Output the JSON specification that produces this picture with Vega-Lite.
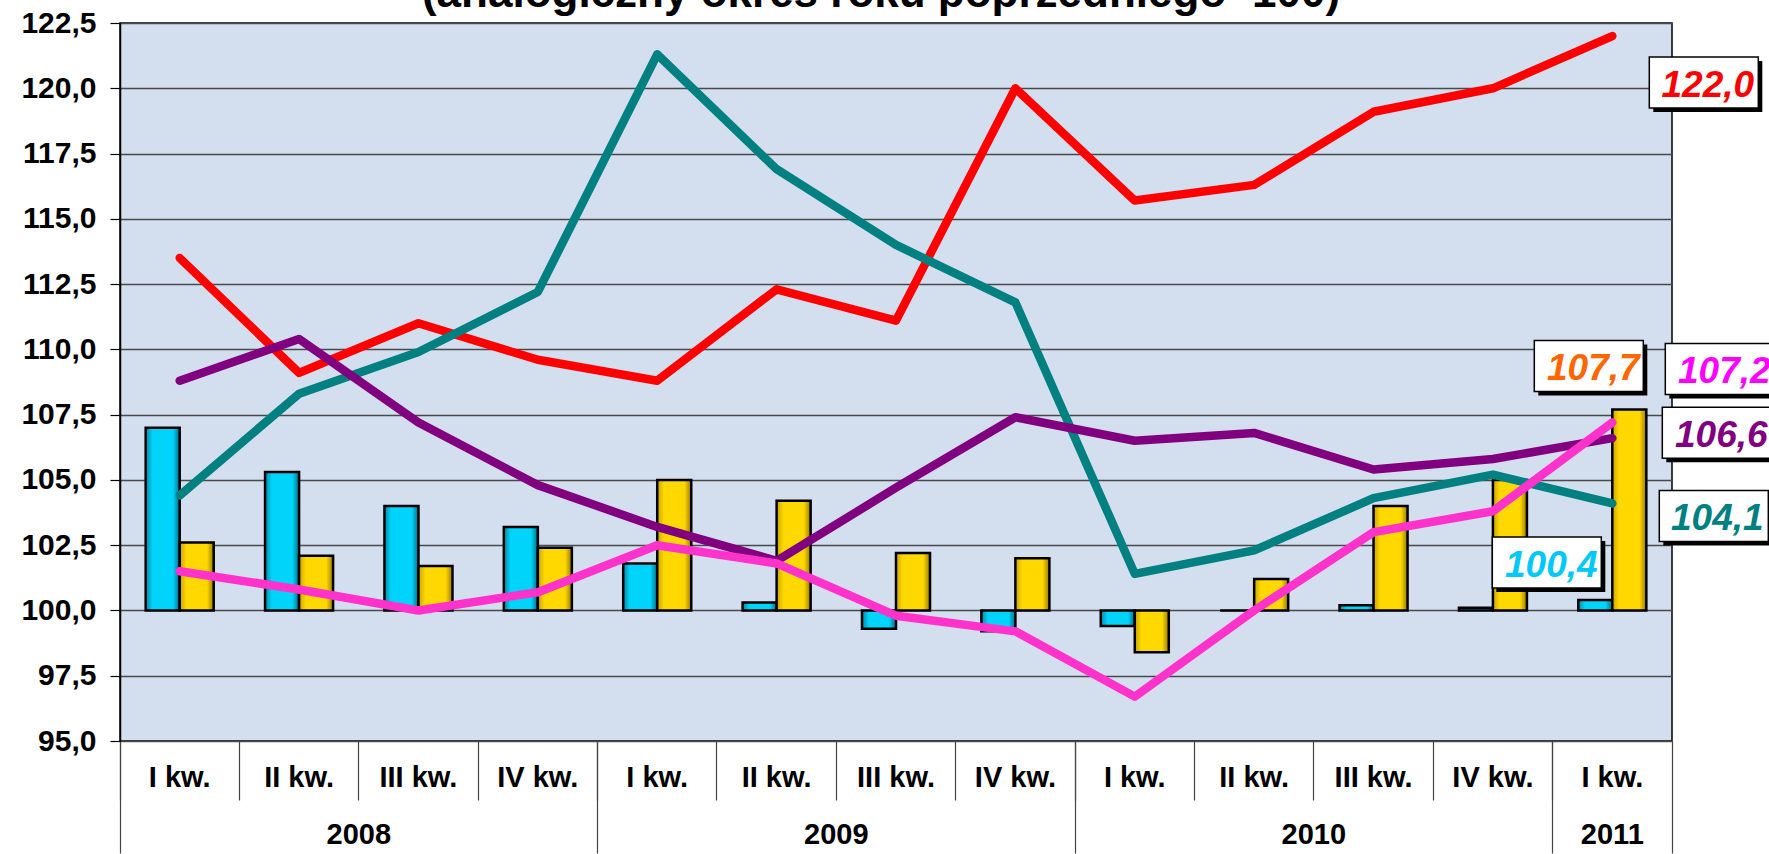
{
  "$schema": "https://vega.github.io/schema/vega-lite/v6.json",
  "width": 1552,
  "height": 718,
  "autosize": {"type": "none"},
  "padding": {"left": 120, "top": 23, "right": 97, "bottom": 113},
  "background": "#ffffff",
  "title": {"text": "(analogiczny okres roku poprzedniego=100)", "font": "Liberation Sans", "fontSize": 44, "fontWeight": "bold", "color": "#000000", "anchor": "middle", "frame": "group", "baseline": "alphabetic", "offset": 10, "dx": -15, "dy": 53},
  "config": {
    "locale": {"number": {"decimal": ",", "thousands": " ", "grouping": [3], "currency": ["", " zł"]}},
    "view": {"fill": "#D3DEEF", "stroke": "#000000", "strokeWidth": 1.5},
    "axis": {"labelFont": "Liberation Sans", "labelFontWeight": "bold", "labelColor": "#000000"}
  },
  "data": {"values": [
    {"k": "2008|I kw.", "cyan": 107.0, "yellow": 102.6, "red": 113.5, "teal": 104.4, "purple": 108.8, "pink": 101.5},
    {"k": "2008|II kw.", "cyan": 105.3, "yellow": 102.1, "red": 109.1, "teal": 108.3, "purple": 110.4, "pink": 100.8},
    {"k": "2008|III kw.", "cyan": 104.0, "yellow": 101.7, "red": 111.0, "teal": 109.9, "purple": 107.2, "pink": 100.0},
    {"k": "2008|IV kw.", "cyan": 103.2, "yellow": 102.4, "red": 109.6, "teal": 112.2, "purple": 104.8, "pink": 100.7},
    {"k": "2009|I kw.", "cyan": 101.8, "yellow": 105.0, "red": 108.8, "teal": 121.3, "purple": 103.2, "pink": 102.5},
    {"k": "2009|II kw.", "cyan": 100.3, "yellow": 104.2, "red": 112.3, "teal": 116.9, "purple": 101.9, "pink": 101.8},
    {"k": "2009|III kw.", "cyan": 99.3, "yellow": 102.2, "red": 111.1, "teal": 114.0, "purple": 104.7, "pink": 99.8},
    {"k": "2009|IV kw.", "cyan": 99.2, "yellow": 102.0, "red": 120.0, "teal": 111.8, "purple": 107.4, "pink": 99.2},
    {"k": "2010|I kw.", "cyan": 99.4, "yellow": 98.4, "red": 115.7, "teal": 101.4, "purple": 106.5, "pink": 96.7},
    {"k": "2010|II kw.", "cyan": 100.0, "yellow": 101.2, "red": 116.3, "teal": 102.3, "purple": 106.8, "pink": 100.0},
    {"k": "2010|III kw.", "cyan": 100.2, "yellow": 104.0, "red": 119.1, "teal": 104.3, "purple": 105.4, "pink": 103.0},
    {"k": "2010|IV kw.", "cyan": 100.1, "yellow": 105.0, "red": 120.0, "teal": 105.2, "purple": 105.8, "pink": 103.8},
    {"k": "2011|I kw.", "cyan": 100.4, "yellow": 107.7, "red": 122.0, "teal": 104.1, "purple": 106.6, "pink": 107.2}
  ]},
  "layer": [
    {
      "transform": [{"fold": ["cyan", "yellow"], "as": ["series", "value"]}, {"filter": "datum.series === 'cyan'"}],
      "mark": {"type": "bar", "stroke": "#000000", "strokeWidth": 2.5, "fill": {"gradient": "linear", "x1": 0, "y1": 0, "x2": 1, "y2": 0, "stops": [{"offset": 0, "color": "#0088a8"}, {"offset": 0.2, "color": "#00D4FA"}, {"offset": 0.8, "color": "#00D4FA"}, {"offset": 1, "color": "#006c88"}]}},
      "encoding": {
        "x": {"field": "k", "type": "nominal", "sort": null, "scale": {"paddingInner": 0, "paddingOuter": 0},
          "axis": {"orient": "bottom", "title": null, "bandPosition": 0, "domain": false, "grid": false, "ticks": true, "tickSize": 59, "tickColor": "#444444", "tickWidth": 1.2, "labelExpr": "split(datum.value, '|')[1]", "labelAngle": 0, "labelBaseline": "middle", "labelPadding": -22.5, "labelFontSize": 29, "labelOverlap": false, "labelBound": false, "labelFlush": false}},
        "xOffset": {"field": "series", "type": "nominal", "scale": {"domain": ["cyan", "yellow"], "paddingInner": 0, "paddingOuter": 0.755}},
        "y": {"field": "value", "type": "quantitative", "scale": {"domain": [95, 122.5], "nice": false, "zero": false},
          "axis": {"title": null, "values": [95, 97.5, 100, 102.5, 105, 107.5, 110, 112.5, 115, 117.5, 120, 122.5], "format": ".1f", "labelFontSize": 30, "labelPadding": 14, "labelBaseline": "middle", "tickSize": 10, "tickColor": "#000000", "tickWidth": 1.2, "domain": true, "domainColor": "#000000", "domainWidth": 1.5, "grid": true, "gridColor": "#4a4a4a", "gridWidth": 1.5}},
        "y2": {"datum": 100}
      }
    },
    {
      "transform": [{"fold": ["cyan", "yellow"], "as": ["series", "value"]}, {"filter": "datum.series === 'yellow'"}],
      "mark": {"type": "bar", "stroke": "#000000", "strokeWidth": 2.5, "fill": {"gradient": "linear", "x1": 0, "y1": 0, "x2": 1, "y2": 0, "stops": [{"offset": 0, "color": "#c9a400"}, {"offset": 0.2, "color": "#FFD800"}, {"offset": 0.8, "color": "#FFD800"}, {"offset": 1, "color": "#9a7a00"}]}},
      "encoding": {
        "x": {"field": "k", "type": "nominal", "sort": null,
          "axis": {"orient": "bottom", "title": null, "values": ["2008|I kw.", "2009|I kw.", "2010|I kw.", "2011|I kw."], "bandPosition": 0, "domain": false, "grid": false, "ticks": true, "tickSize": 112, "tickColor": "#444444", "tickWidth": 1.2, "labels": false}},
        "xOffset": {"field": "series", "type": "nominal"},
        "y": {"field": "value", "type": "quantitative"},
        "y2": {"datum": 100}
      }
    },
    {
      "transform": [{"fold": ["red", "teal", "purple", "pink"], "as": ["series", "value"]}],
      "mark": {"type": "line", "strokeWidth": 8.5, "strokeCap": "round", "strokeJoin": "round"},
      "encoding": {
        "x": {"field": "k", "type": "nominal", "sort": null,
          "axis": {"orient": "bottom", "title": null, "values": ["2008|II kw.", "2009|II kw.", "2010|II kw.", "2011|I kw."], "domain": false, "grid": false, "ticks": false, "labelExpr": "split(datum.value, '|')[0]", "labelOffset": {"condition": {"test": "indexof(datum.value, '2011') === 0", "value": 0}, "value": 59.7}, "labelPadding": 93.5, "labelBaseline": "middle", "labelAngle": 0, "labelFontSize": 29, "labelOverlap": false, "labelBound": false, "labelFlush": false}},
        "y": {"field": "value", "type": "quantitative"},
        "color": {"field": "series", "type": "nominal", "scale": {"domain": ["red", "teal", "purple", "pink"], "range": ["#FF0000", "#008080", "#800080", "#FF33CC"]}, "legend": null}
      }
    },
    {
      "transform": [{"filter": "datum.k === '2011|I kw.'"}, {"fold": ["cyan", "yellow", "red", "teal", "purple", "pink"], "as": ["series", "value"]}],
      "mark": {"type": "point", "filled": true, "fill": "#000000", "size": 4, "opacity": 1, "strokeWidth": 0},
      "encoding": {
        "x": {"field": "k", "type": "nominal", "sort": null,
          "axis": {"orient": "bottom", "title": null, "values": ["2011|I kw."], "bandPosition": 1, "domain": false, "grid": false, "ticks": true, "tickSize": 112, "tickColor": "#444444", "tickWidth": 1.2, "labels": false}},
        "y": {"field": "value", "type": "quantitative"},
        "shape": {"field": "series", "type": "nominal", "legend": null, "scale": {"domain": ["cyan", "yellow", "red", "teal", "purple", "pink"], "range": ["M-116,-59H-7V-8H-116Z", "M-74,-65H35V-14H-74Z", "M41,25H150V76H41Z", "M51,-9H160V42H51Z", "M54,-27H163V24H54Z", "M57,-75H166V-24H57Z"]}}
      }
    },
    {
      "transform": [{"filter": "datum.k === '2011|I kw.'"}, {"fold": ["cyan", "yellow", "red", "teal", "purple", "pink"], "as": ["series", "value"]}],
      "mark": {"type": "point", "filled": true, "fill": "#ffffff", "stroke": "#000000", "strokeWidth": 1.5, "size": 4, "opacity": 1},
      "encoding": {
        "x": {"field": "k", "type": "nominal", "sort": null, "axis": null},
        "y": {"field": "value", "type": "quantitative"},
        "shape": {"field": "series", "type": "nominal", "legend": null, "scale": {"domain": ["cyan", "yellow", "red", "teal", "purple", "pink"], "range": ["M-120,-63H-11V-12H-120Z", "M-78,-69H31V-18H-78Z", "M37,21H146V72H37Z", "M47,-13H156V38H47Z", "M50,-31H159V20H50Z", "M53,-79H162V-28H53Z"]}}
      }
    },
    {
      "transform": [{"filter": "datum.k === '2011|I kw.'"}],
      "mark": {"type": "text", "font": "Liberation Sans", "fontSize": 37, "fontWeight": "bold", "fontStyle": "italic", "align": "center", "baseline": "alphabetic", "dx": -61, "dy": -23.3, "color": "#00C8F8"},
      "encoding": {"x": {"field": "k", "type": "nominal", "sort": null, "axis": null}, "y": {"field": "cyan", "type": "quantitative"}, "text": {"field": "cyan", "type": "quantitative", "format": ".1f"}}
    },
    {
      "transform": [{"filter": "datum.k === '2011|I kw.'"}],
      "mark": {"type": "text", "font": "Liberation Sans", "fontSize": 37, "fontWeight": "bold", "fontStyle": "italic", "align": "center", "baseline": "alphabetic", "dx": -19, "dy": -29.4, "color": "#FF6600"},
      "encoding": {"x": {"field": "k", "type": "nominal", "sort": null, "axis": null}, "y": {"field": "yellow", "type": "quantitative"}, "text": {"field": "yellow", "type": "quantitative", "format": ".1f"}}
    },
    {
      "transform": [{"filter": "datum.k === '2011|I kw.'"}],
      "mark": {"type": "text", "font": "Liberation Sans", "fontSize": 37, "fontWeight": "bold", "fontStyle": "italic", "align": "center", "baseline": "alphabetic", "dx": 95.5, "dy": 61, "color": "#FF0000"},
      "encoding": {"x": {"field": "k", "type": "nominal", "sort": null, "axis": null}, "y": {"field": "red", "type": "quantitative"}, "text": {"field": "red", "type": "quantitative", "format": ".1f"}}
    },
    {
      "transform": [{"filter": "datum.k === '2011|I kw.'"}],
      "mark": {"type": "text", "font": "Liberation Sans", "fontSize": 37, "fontWeight": "bold", "fontStyle": "italic", "align": "center", "baseline": "alphabetic", "dx": 105, "dy": 26.6, "color": "#008080"},
      "encoding": {"x": {"field": "k", "type": "nominal", "sort": null, "axis": null}, "y": {"field": "teal", "type": "quantitative"}, "text": {"field": "teal", "type": "quantitative", "format": ".1f"}}
    },
    {
      "transform": [{"filter": "datum.k === '2011|I kw.'"}],
      "mark": {"type": "text", "font": "Liberation Sans", "fontSize": 37, "fontWeight": "bold", "fontStyle": "italic", "align": "center", "baseline": "alphabetic", "dx": 109, "dy": 8.6, "color": "#800080"},
      "encoding": {"x": {"field": "k", "type": "nominal", "sort": null, "axis": null}, "y": {"field": "purple", "type": "quantitative"}, "text": {"field": "purple", "type": "quantitative", "format": ".1f"}}
    },
    {
      "transform": [{"filter": "datum.k === '2011|I kw.'"}],
      "mark": {"type": "text", "font": "Liberation Sans", "fontSize": 37, "fontWeight": "bold", "fontStyle": "italic", "align": "center", "baseline": "alphabetic", "dx": 112, "dy": -39.8, "color": "#FF00FF"},
      "encoding": {"x": {"field": "k", "type": "nominal", "sort": null, "axis": null}, "y": {"field": "pink", "type": "quantitative"}, "text": {"field": "pink", "type": "quantitative", "format": ".1f"}}
    }
  ],
  "resolve": {"axis": {"x": "independent"}, "scale": {"shape": "independent"}}
}
